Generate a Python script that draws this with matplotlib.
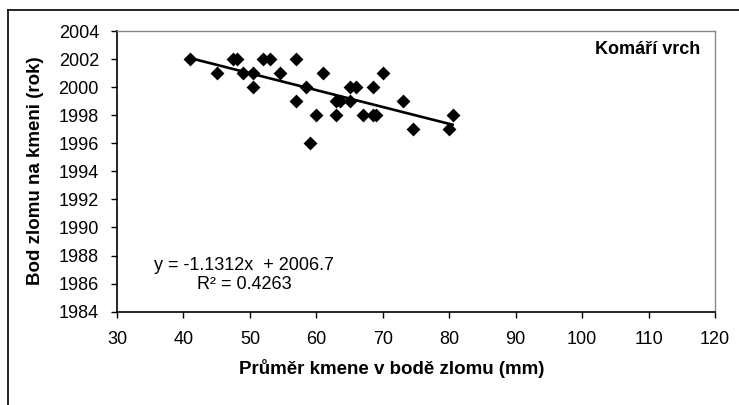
import numpy as np
import matplotlib
matplotlib.use("Agg")
import matplotlib.pyplot as plt
from matplotlib.lines import Line2D

plt.rcParams['font.family'] = ['Liberation Sans', 'DejaVu Sans']

# prumer kmene (mm) vs. rok zlomu
prumer = [41.0, 45.0, 47.5, 48.0, 49.0, 50.5, 50.5, 52.0, 53.0, 54.5,
          57.0, 57.0, 58.5, 59.0, 60.0, 61.0, 63.0, 63.0, 63.5, 65.0,
          65.0, 66.0, 67.0, 68.5, 68.5, 69.0, 70.0, 73.0, 74.5, 80.0, 80.5]
rok = [2002, 2001, 2002, 2002, 2001, 2001, 2000, 2002, 2002, 2001,
       2002, 1999, 2000, 1996, 1998, 2001, 1998, 1999, 1999, 2000,
       1999, 2000, 1998, 2000, 1998, 1998, 2001, 1999, 1997, 1997, 1998]

x_ticks = [30, 40, 50, 60, 70, 80, 90, 100, 110, 120]
y_ticks = list(range(1984, 2005, 2))

eq_text = "y = -1.1312x  + 2006.7\nR² = 0.4263"
site = "Komáří vrch"

fig = plt.figure(figsize=(7.39, 4.05), dpi=100)
ax = fig.add_axes([117/739, 1 - 311.7/405, (715 - 117)/739, (311.7 - 31)/405])

ax.scatter(prumer, rok, marker='D', s=50, color='black', zorder=3, linewidths=0)

# linear trend
k, q = np.polyfit(prumer, rok, 1)
xx = np.array([min(prumer), max(prumer)])
ax.plot(xx, k * xx + q, color='black', lw=1.9, zorder=2)

ax.set_xlim(30, 120)
ax.set_ylim(1984, 2004)
ax.set_xticks(x_ticks)
ax.set_yticks(y_ticks)
ax.tick_params(direction='out', length=4, width=1, labelsize=13, color='black')
ax.tick_params(axis='y', pad=9)
ax.tick_params(axis='x', pad=10)

for s in ['left', 'bottom']:
    ax.spines[s].set_color('black')
    ax.spines[s].set_linewidth(1.2)
for s in ['top', 'right']:
    ax.spines[s].set_color('#888888')
    ax.spines[s].set_linewidth(1.0)

fig.text(244/739, 1 - 275/405, eq_text, ha='center', va='center', fontsize=13,
         linespacing=1.2)
ax.text(0.975, 0.935, site, ha='right', va='center', fontsize=13,
        fontweight='bold', transform=ax.transAxes)

fig.text(392/739, 1 - 368/405, "Průměr kmene v bodě zlomu (mm)", ha='center',
         va='center', fontsize=13.5, fontweight='bold')
fig.text(36/739, 1 - 171/405, "Bod zlomu na kmeni (rok)", ha='center',
         va='center', rotation=90, fontsize=13.5, fontweight='bold')

# outer chart border (only top and left visible)
fig.add_artist(Line2D([8/739, 1.0], [1 - 10/405, 1 - 10/405], color='black', lw=1.2))
fig.add_artist(Line2D([8/739, 8/739], [0.0, 1 - 10/405], color='black', lw=1.2))

fig.savefig("out.png", dpi=100)
